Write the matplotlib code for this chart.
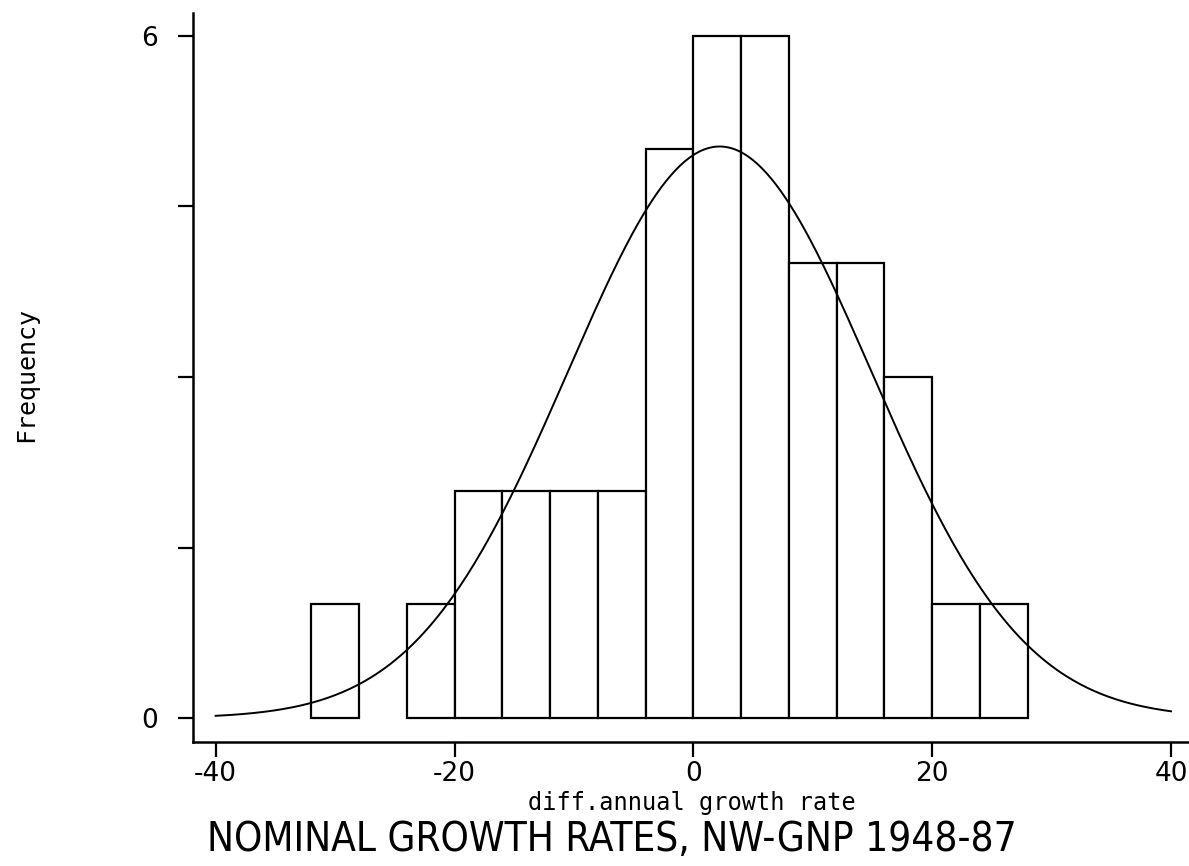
import numpy as np
import matplotlib
matplotlib.use("Agg")
import matplotlib.pyplot as plt

# histogram: bin edges of width 4, counts per bin
bin_left = [-32, -28, -24, -20, -16, -12, -8, -4, 0, 4, 8, 12, 16, 20, 24]
counts = [1, 0, 1, 2, 2, 2, 2, 5, 6, 6, 4, 4, 3, 1, 1]
bin_width = 4

# fitted normal overlay
mu = 2.2
sigma = 12.7
n_obs = sum(counts)

x_ticks = [-40, -20, 0, 20, 40]
y_ticks = [0, 1.5, 3, 4.5, 6]
y_ticklabels = ["0", "", "", "", "6"]

plt.rcParams['font.family'] = ['DejaVu Sans']

fig = plt.figure(figsize=(11.89, 8.66), dpi=100)
ax = fig.add_axes([0.1623, 0.1432, 0.8377, 0.8418])

# bars (empty bin left out)
for left, c in zip(bin_left, counts):
    if c > 0:
        ax.bar(left, c, width=bin_width, align='edge', facecolor='white',
               edgecolor='black', linewidth=1.6)

xs = np.linspace(-40, 40, 400)
dens = n_obs * bin_width / (sigma * np.sqrt(2 * np.pi)) * np.exp(-0.5 * ((xs - mu) / sigma) ** 2)
ax.plot(xs, dens, color='black', linewidth=1.4)

ax.set_xlim(-41.9, 41.5)
ax.set_ylim(-0.21, 6.2)
ax.spines['top'].set_visible(False)
ax.spines['right'].set_visible(False)
ax.spines['left'].set_linewidth(1.8)
ax.spines['bottom'].set_linewidth(1.8)

ax.set_xticks(x_ticks)
ax.set_xticklabels([str(t) for t in x_ticks])
ax.set_yticks(y_ticks)
ax.set_yticklabels(y_ticklabels)
ax.tick_params(axis='both', direction='out', length=11, width=1.6, labelsize=19, pad=3)
ax.tick_params(axis='y', pad=14)

# axis titles placed in figure coords
fig.text(0.582, 0.073, "diff.annual growth rate", ha='center', va='center',
         fontsize=17, family='DejaVu Sans Mono')
fig.text(0.022, 0.567, "Frequency", rotation=90, ha='center', va='center',
         fontsize=18, family='DejaVu Sans Mono')

fig.text(0.515, 0.03, "NOMINAL GROWTH RATES, NW-GNP 1948-87", ha='center', va='center',
         fontsize=29, fontstretch='condensed')

fig.savefig("out.png", dpi=100)
